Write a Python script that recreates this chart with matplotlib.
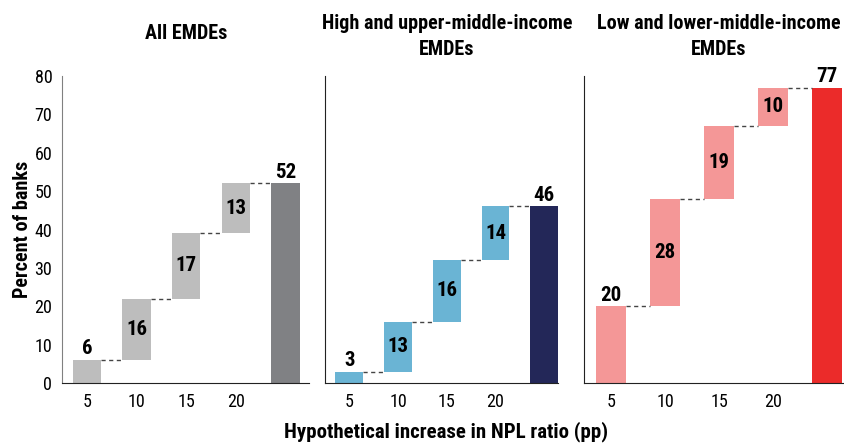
import matplotlib
matplotlib.use("Agg")
import matplotlib.pyplot as plt
import matplotlib.font_manager as fm

names = set(f.name for f in fm.fontManager.ttflist)
cands = ['Roboto Condensed', 'Archivo Narrow', 'Liberation Sans Narrow', 'Barlow Semi Condensed', 'PT Sans Narrow']
avail = [c for c in cands if c in names]
plt.rcParams['font.family'] = avail + ['DejaVu Sans']

steps = ["5", "10", "15", "20"]
all_vals = [6, 16, 17, 13]
all_total = 52
high_vals = [3, 13, 16, 14]
high_total = 46
low_vals = [20, 28, 19, 10]
low_total = 77

panels = [
    ("All EMDEs", all_vals, all_total, "#BDBDBD", "#808184", [0.0735, 0.1354, 0.293, 0.693], 4.48, True),
    ("High and upper-middle-income\nEMDEs", high_vals, high_total, "#6AB4D4", "#232758", [0.385, 0.1354, 0.276, 0.693], 4.28, False),
    ("Low and lower-middle-income\nEMDEs", low_vals, low_total, "#F49797", "#EB2B2A", [0.692, 0.1354, 0.307, 0.693], 4.3, False),
]

fig = plt.figure(figsize=(8.44, 4.43), dpi=100)
w = 0.57
for title, vals, total, c_step, c_total, pos, xr, first in panels:
    ax = fig.add_axes(pos)
    bottoms = [sum(vals[:i]) for i in range(len(vals))]
    x = list(range(len(vals)))
    ax.bar(x, vals, bottom=bottoms, width=w, color=c_step, zorder=2)
    ax.bar(len(vals), total, width=w, color=c_total, zorder=2)
    tops = [b + v for b, v in zip(bottoms, vals)]
    for i, t in enumerate(tops):
        ax.plot([i + w / 2, i + 1 - w / 2], [t, t], ls=(0, (3, 2.5)), color="#444444", lw=1)
    for i, (b, v) in enumerate(zip(bottoms, vals)):
        if i == 0:
            ax.text(i, b + v + 0.4, str(v), ha="center", va="bottom", fontsize=15, fontweight="bold")
        else:
            ax.text(i, b + v / 2, str(v), ha="center", va="center", fontsize=15, fontweight="bold")
    ax.text(len(vals), total + 0.4, str(total), ha="center", va="bottom", fontsize=15, fontweight="bold")
    ax.set_xlim(-0.5, xr)
    ax.set_ylim(0, 80)
    ax.set_xticks(x)
    ax.set_xticklabels(steps, fontsize=13)
    ax.tick_params(axis="x", length=0, pad=7)
    ax.spines["top"].set_visible(False)
    ax.spines["right"].set_visible(False)
    if first:
        ax.set_yticks(range(0, 81, 10))
        ax.tick_params(axis="y", length=0, labelsize=13, pad=7)
        ax.spines["left"].set_color("#808080")
        ax.set_ylabel("Percent of banks", fontsize=14.5, fontweight="bold", labelpad=2)
    else:
        ax.set_yticks([])
        ax.spines["left"].set_color("#222222")
    ax.spines["bottom"].set_color("#222222")
    cx = pos[0] + pos[2] * (2.5 / (xr + 0.5))
    if "\n" in title:
        fig.text(cx, 0.968, title, ha="center", va="top", fontsize=14.5, fontweight="bold", linespacing=1.45)
    else:
        fig.text(cx, 0.925, title, ha="center", va="center", fontsize=14.5, fontweight="bold")

fig.text(0.528, 0.025, "Hypothetical increase in NPL ratio (pp)", ha="center", va="center",
         fontsize=15, fontweight="bold")
fig.savefig("out.png", dpi=100)
